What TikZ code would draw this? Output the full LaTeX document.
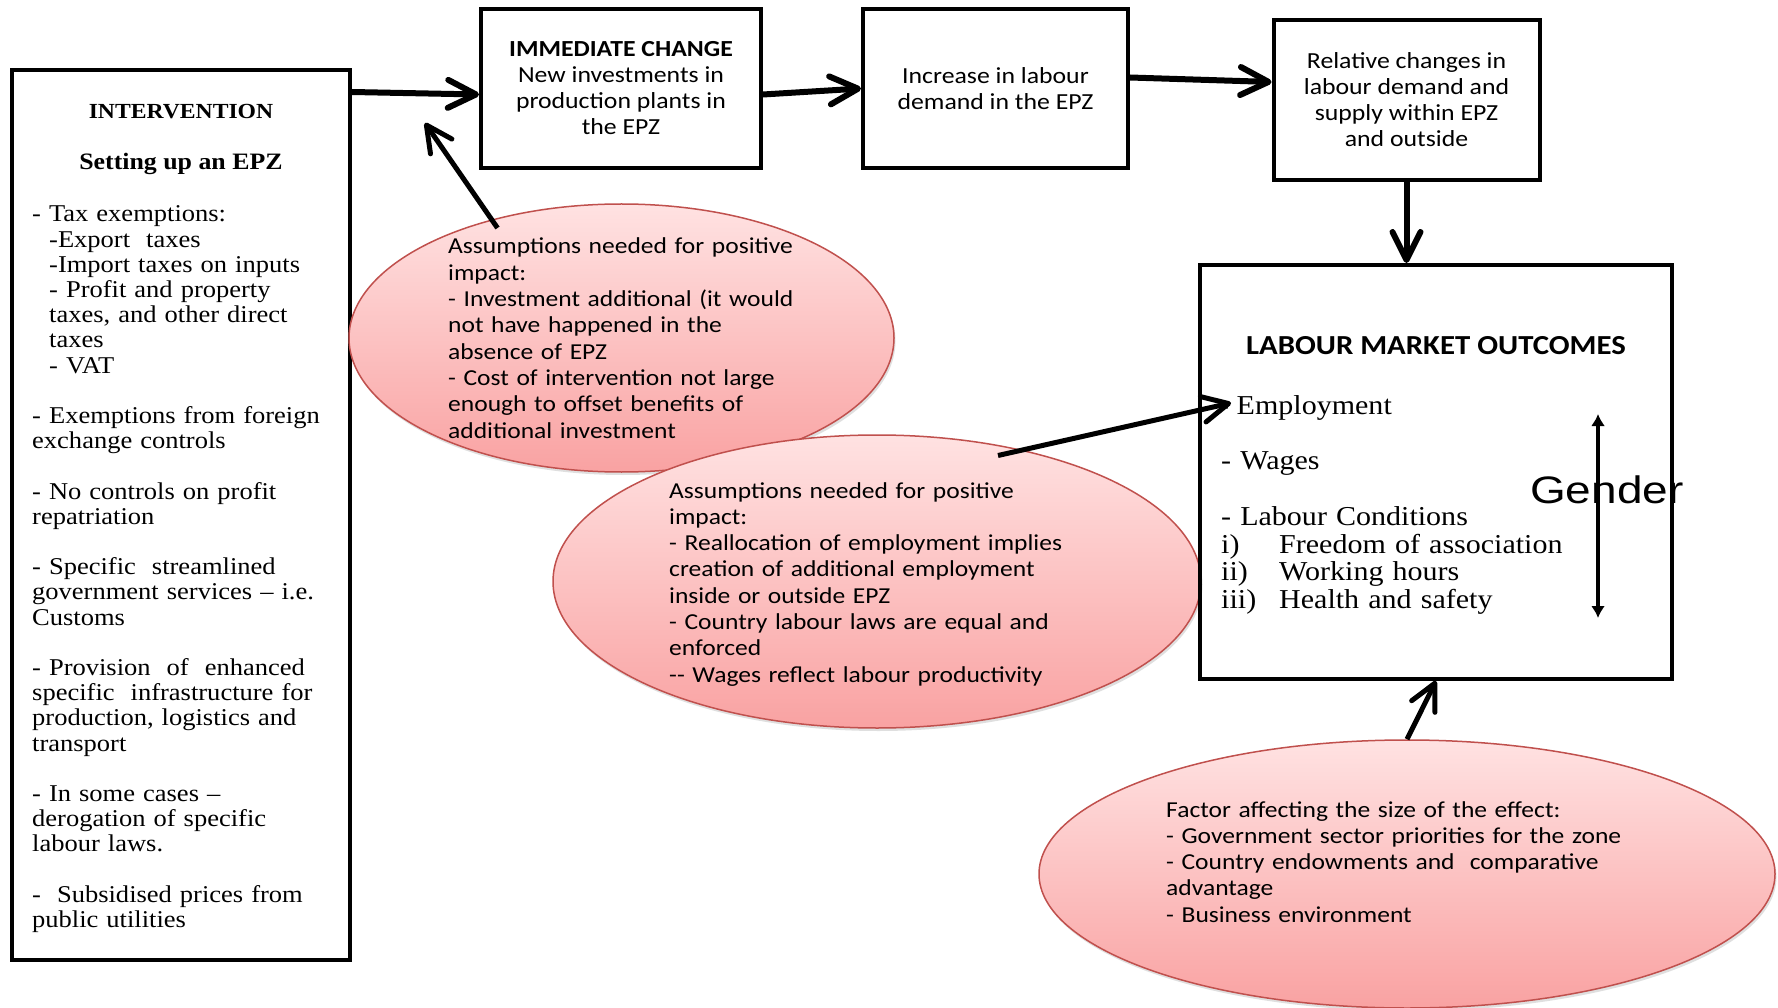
\documentclass[tikz,border=0pt]{standalone}
\usepackage{fontspec}
\usepackage{graphicx}
\usetikzlibrary{shapes.geometric,arrows.meta,shadows,calc}
\newfontfamily\serifx{Liberation Serif}[FakeStretch=1.1]
\newfontfamily\sansx{Carlito}[FakeStretch=1.12]
\newfontfamily\gendx{Liberation Sans}[FakeStretch=1.2]
\definecolor{ellline}{RGB}{192,80,77}
\definecolor{elltop}{RGB}{255,226,226}
\definecolor{ellbot}{RGB}{249,162,162}
\begin{document}
\begin{tikzpicture}[x=1pt,y=-1pt,
  box/.style={draw, line width=4pt, rectangle, inner sep=0pt},
  boxtxt/.style={align=center, font=\sansx\fontsize{23}{26}\selectfont},
  ell/.style={ellipse, draw=ellline, line width=1.5pt, top color=elltop, bottom color=ellbot, inner sep=0pt,
    drop shadow={shadow xshift=1.5pt, shadow yshift=-3pt, opacity=0.25}},
  elltxt/.style={anchor=base west, inner sep=0pt, text width=540pt, align=left, font=\sansx\fontsize{22.8}{26.3}\selectfont},
  serlist/.style={anchor=base west, inner sep=0pt, align=left},
  arr/.style={line width=6pt, -{Straight Barb[length=28pt,width=28pt,round]}},
  arrthin/.style={line width=5pt, -{Straight Barb[length=26pt,width=26pt,round]}},
  gendarr/.style={line width=3.5pt, {Latex[length=12pt,width=14pt]}-{Latex[length=12pt,width=14pt]}}
]
\useasboundingbox (0,0) rectangle (1778,1008);
\fill[white] (0,0) rectangle (1778,1008);

% Intervention box
\node[box, minimum width=338pt, minimum height=890pt] (intv) at (181,515) {};
\node[anchor=base, inner sep=0pt, font=\serifx\bfseries\fontsize{21.5}{25}\selectfont] (intvtitle) at (181,119) {INTERVENTION};
\node[anchor=base, inner sep=0pt, font=\serifx\bfseries\fontsize{23.5}{25}\selectfont] (intvsub) at (181,170) {Setting up an EPZ};
\node[serlist, text width=315pt, font=\serifx\fontsize{24.1}{25.2}\selectfont] (intvlist) at (32,222) {%
- Tax exemptions:\\
\hspace*{17pt}-Export~ taxes\\
\hspace*{17pt}-Import taxes on inputs\\
\hspace*{17pt}- Profit and property\\
\hspace*{17pt}taxes, and other direct\\
\hspace*{17pt}taxes\\
\hspace*{17pt}- VAT\\[25.2pt]
- Exemptions from foreign\\
exchange controls\\[25.2pt]
- No controls on profit\\
repatriation\\[25.2pt]
- Specific~ streamlined\\
government services – i.e.\\
Customs\\[25.2pt]
- Provision~ of~ enhanced\\
specific~ infrastructure for\\
production, logistics and\\
transport\\[25.2pt]
- In some cases –\\
derogation of specific\\
labour laws.\\[25.2pt]
-~ Subsidised prices from\\
public utilities};

% Top boxes
\node[box, boxtxt, minimum width=280pt, minimum height=159pt] (box1) at (621,88.5)
  {\textbf{IMMEDIATE CHANGE}\\New investments in\\production plants in\\the EPZ};
\node[box, boxtxt, minimum width=265pt, minimum height=159pt] (box2) at (995.5,88.5)
  {Increase in labour\\demand in the EPZ};
\node[box, boxtxt, minimum width=266pt, minimum height=160pt] (box3) at (1406.5,100)
  {Relative changes in\\labour demand and\\supply within EPZ\\and outside};

% Top arrows
\draw[arr] ([yshift=-24pt]intv.north east) -- ([yshift=-6pt]box1.west);
\draw[arr] ([yshift=-6pt]box1.east) -- (box2.west);
\draw[arr] ([yshift=11pt]box2.east) -- ([yshift=18pt]box3.west);

% Ellipses
\node[ell, minimum width=545pt, minimum height=268pt] (e1) at (621.5,338) {};
\node[ell, minimum width=648pt, minimum height=293pt] (e2) at (877,581.5) {};
\node[ell, minimum width=736pt, minimum height=268pt] (e3) at (1407,874) {};

\node[elltxt] (e1t) at (448,254) {Assumptions needed for positive\\impact:\\- Investment additional (it would\\not have happened in the\\absence of EPZ\\- Cost of intervention not large\\enough to offset benefits of\\additional investment};
\node[elltxt] (e2t) at (669,498) {Assumptions needed for positive\\impact:\\- Reallocation of employment implies\\creation of additional employment\\inside or outside EPZ\\- Country labour laws are equal and\\enforced\\-{}- Wages reflect labour productivity};
\node[elltxt] (e3t) at (1166,817) {Factor affecting the size of the effect:\\- Government sector priorities for the zone\\- Country endowments and~ comparative\\advantage\\- Business environment};

% Labour market outcomes box
\node[box, minimum width=472pt, minimum height=414pt] (lm) at (1436,472) {};
\node[anchor=base, inner sep=0pt, font=\sansx\bfseries\fontsize{27.5}{30}\selectfont] (lmtitle) at (1436,354) {LABOUR MARKET OUTCOMES};
\node[anchor=base west, inner sep=0pt, font=\serifx\fontsize{27.3}{27.8}\selectfont] (labemp) at (1219,414) {- Employment};
\node[serlist, text width=400pt, font=\serifx\fontsize{27.3}{27.8}\selectfont] (labrest) at (1221,469.6) {%
- Wages\\[27.8pt]
- Labour Conditions\\
\makebox[58pt][l]{i)}Freedom of association\\
\makebox[58pt][l]{ii)}Working hours\\
\makebox[58pt][l]{iii)}Health and safety};
\node[anchor=base west, inner sep=0pt, font=\gendx\fontsize{38.3}{40}\selectfont] (gender) at (1530,503) {Gender};
\coordinate (gtop) at (1598,414);
\coordinate (gbot) at (1598,618);
\draw[gendarr] (gtop) -- (gbot);

% Arrows to the flow
\draw[arr] (box3.south) -- (box3.south |- lm.north);
\coordinate (tipA) at (425,123);
\draw[arrthin] ([shift={(-124pt,110pt)}]e1.center) -- (tipA);
\draw[arrthin] ([shift={(121pt,126pt)}]e2.center) -- ([xshift=12pt,yshift=11pt]labemp.base west);
\draw[arrthin] (e3.north) -- (lm.south);
\end{tikzpicture}
\end{document}
